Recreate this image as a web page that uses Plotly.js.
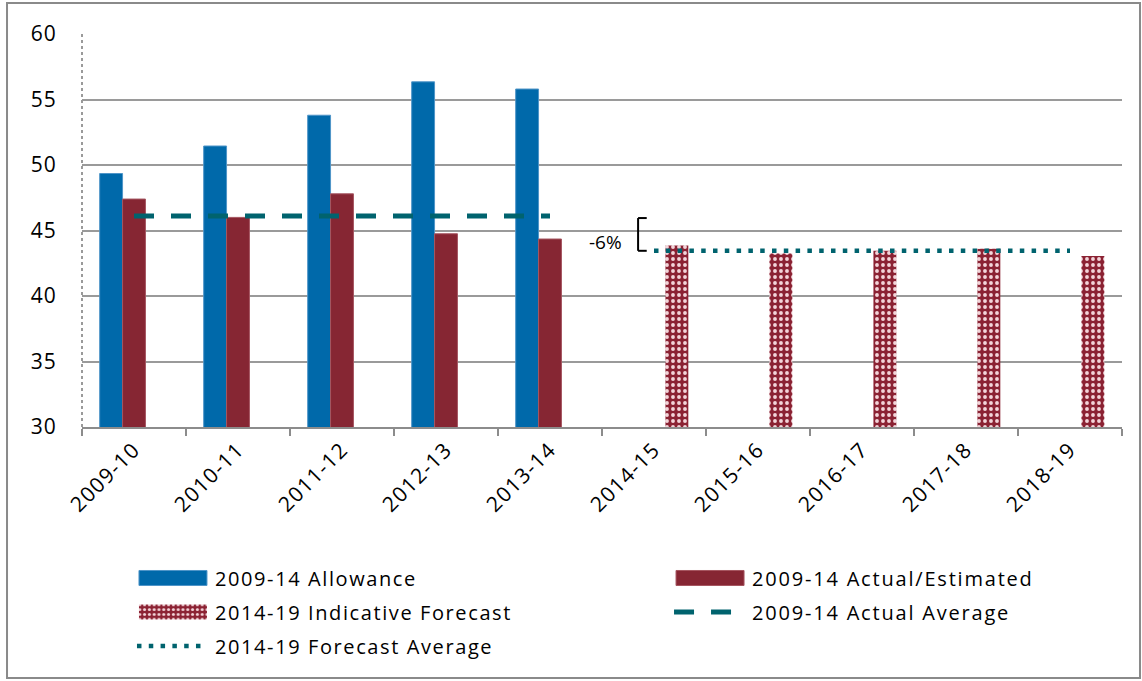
<!DOCTYPE html>
<html><head><meta charset="utf-8">
<script src="https://cdn.plot.ly/plotly-3.0.1.min.js"></script>
<style>
html,body{margin:0;padding:0;background:#fff}
#chart .infolayer text.legendtext{letter-spacing:1.6px}
#chart .infolayer g.legend2 text{letter-spacing:1.8px}
#chart .xtick text{letter-spacing:1.3px}
#chart .ytick text{letter-spacing:1px}
#chart .infolayer .scrollbox{clip-path:none !important}
#chart .infolayer .legendpoints path{d:path('M12,7.5H-56V-7.5H12Z')}
#chart .infolayer .legendlines path{d:path('M-38,0h66')}
</style>
</head><body><div id="chart" style="width:1142px;height:681px"></div>
<script>
const years = ['2009-10','2010-11','2011-12','2012-13','2013-14','2014-15','2015-16','2016-17','2017-18','2018-19'];
const allowance = [49.35, 51.45, 53.8, 56.35, 55.8, null, null, null, null, null];
const actual = [47.4, 46.0, 47.8, 44.75, 44.35, null, null, null, null, null];
const forecast = [null, null, null, null, null, 43.85, 43.25, 43.45, 43.6, 43.05];
const actualAverage = 46.1;
const forecastAverage = 43.45;
const actualAvgYears = ['2009-10','2013-14'];
const forecastAvgYears = ['2014-15','2018-19'];
const yTickValues = [30, 35, 40, 45, 50, 55, 60];
const yTickLabels = ['30', '35', '40', '45', '50', '55', '60'];
const changeLabel = '-6%';

const FONT = "'Open Sans', 'Noto Sans', sans-serif";
const teal = '#00636E';

const traces = [
  {type:'bar', name:'2009-14 Allowance', x:years, y:allowance, legend:'legend', legendgroup:'a', legendrank:1,
   marker:{color:'#0069AA', line:{color:'#4f95c8', width:1}}},
  {type:'bar', name:'2009-14 Actual/Estimated', x:years, y:actual, legend:'legend2', legendgroup:'b', legendrank:1,
   marker:{color:'#862633', line:{color:'#a55560', width:1}}},
  {type:'bar', name:'2014-19 Indicative Forecast', x:years, y:forecast, legend:'legend', legendgroup:'c', legendrank:2,
   marker:{color:'#8B2233', line:{width:0},
     pattern:{shape:'.', bgcolor:'#8B2233', fgcolor:'#f3d5da', size:6, solidity:0.32}}},
  {type:'scatter', mode:'lines', name:'2009-14 Actual Average', x:actualAvgYears, legend:'legend2', legendgroup:'d', legendrank:2,
   y:[actualAverage, actualAverage], line:{color:teal, width:5, dash:'20px,17px'}},
  {type:'scatter', mode:'lines', name:'2014-19 Forecast Average', x:forecastAvgYears, legend:'legend', legendgroup:'e', legendrank:3,
   y:[forecastAverage, forecastAverage], line:{color:teal, width:4.5, dash:'4.5px,7.3px'}}
];

const legendFont = {family:FONT, size:20, color:'#000'};
const layout = {
  width:1142, height:681,
  margin:{l:82, r:20, t:34, b:254, autoexpand:false},
  paper_bgcolor:'#fff', plot_bgcolor:'#fff',
  font:{family:FONT, size:21, color:'#000'},
  barmode:'group', bargap:0.34, bargroupgap:0,
  showlegend:true,
  legend:{orientation:'v', x:0.0894, y:-0.3346, xanchor:'left', yanchor:'top',
    tracegroupgap:5, traceorder:'grouped', font:legendFont, bgcolor:'rgba(0,0,0,0)'},
  legend2:{orientation:'v', x:0.6058, y:-0.3346, xanchor:'left', yanchor:'top',
    tracegroupgap:5, traceorder:'grouped', font:legendFont, bgcolor:'rgba(0,0,0,0)'},
  xaxis:{type:'category', showgrid:false, showline:true, linecolor:'#8c8c8c', linewidth:2,
    ticks:'outside', tickson:'boundaries', ticklen:7, tickcolor:'#8c8c8c', tickwidth:2,
    tickangle:-45, tickfont:{family:FONT, size:21, color:'#000'}, zeroline:false},
  yaxis:{range:[30,60], tickmode:'array', tickvals:yTickValues, ticktext:yTickLabels,
    showgrid:true, gridcolor:'#9a9a9a', gridwidth:2,
    showline:false, zeroline:false, ticks:'outside', ticklen:18, tickcolor:'rgba(0,0,0,0)',
    ticklabelstandoff:2,
    tickfont:{family:FONT, size:21, color:'#000'}},
  shapes:[
    {type:'line', xref:'paper', yref:'paper', x0:0, x1:0, y0:0, y1:1,
     line:{color:'#9a9a9a', width:2, dash:'dot'}, layer:'above'},
    {type:'rect', xref:'paper', yref:'paper', x0:-0.0721, x1:1.0173, y0:-0.6387, y1:1.0789,
     line:{color:'#8a8a8a', width:2}, fillcolor:'rgba(0,0,0,0)'},
    {type:'line', xref:'x', yref:'y', x0:4.847, x1:4.847, y0:forecastAverage, y1:actualAverage - 0.15,
     line:{color:'#000', width:2}},
    {type:'line', xref:'x', yref:'y', x0:4.847, x1:4.93, y0:actualAverage - 0.15, y1:actualAverage - 0.15,
     line:{color:'#000', width:2}},
    {type:'line', xref:'x', yref:'y', x0:4.847, x1:4.93, y0:forecastAverage, y1:forecastAverage,
     line:{color:'#000', width:2}}
  ],
  annotations:[
    {xref:'x', yref:'y', x:4.53, y:44.1, text:changeLabel, showarrow:false,
     font:{family:FONT, size:19, color:'#000'}}
  ]
};

Plotly.newPlot('chart', traces, layout, {displayModeBar:false, staticPlot:true});
</script>
</body></html>
